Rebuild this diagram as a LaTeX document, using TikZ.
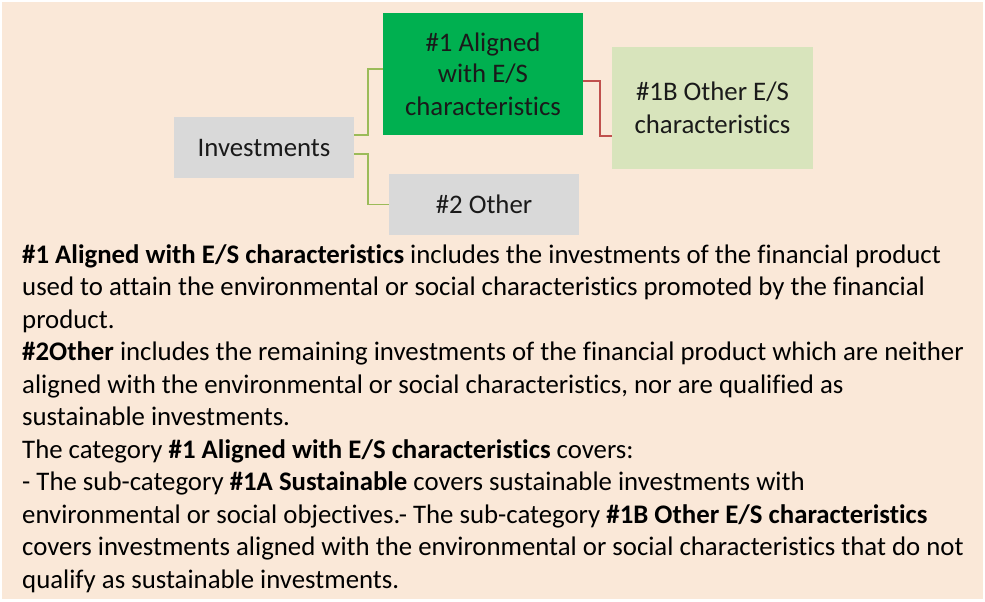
\documentclass[tikz,border=0pt]{standalone}
\usepackage{fontspec}
\setmainfont{Carlito}[Ligatures={NoCommon}]
\definecolor{bgpanel}{HTML}{FAE8D8}
\definecolor{boxgray}{HTML}{D9D9D9}
\definecolor{boxgreen}{HTML}{00B050}
\definecolor{boxlight}{HTML}{D8E4BC}
\definecolor{lnkgreen}{HTML}{9BBB59}
\definecolor{lnkred}{HTML}{C0504D}
\definecolor{txt}{HTML}{1A1A1A}
\tikzset{
  catbox/.style={inner sep=0pt, align=center, text=txt,
    font=\fontsize{26.8}{32.5}\selectfont},
  glink/.style={draw=lnkgreen, line width=1.5pt},
  rlink/.style={draw=lnkred, line width=1.5pt},
  bodyline/.style={anchor=base west, inner sep=0pt, text=black,
    font=\fontsize{26.8}{32.5}\selectfont}
}
\begin{document}
\begin{tikzpicture}[x=1pt,y=-1pt]
\useasboundingbox (0,0) rectangle (985,602);
\fill[bgpanel] (2,2) rectangle (983,599);

\node[catbox, fill=boxgray, minimum width=180pt, minimum height=61pt] (inv) at (264,147.5) {Investments};
\node[catbox, fill=boxgreen, minimum width=200pt, minimum height=122pt] (a1) at (483,74) {\raisebox{-2pt}{\#1 Aligned}\\[1pt]with E/S\\characteristics};
\node[catbox, fill=boxlight, minimum width=201pt, minimum height=122pt] (b1) at (712.5,108) {\#1B Other E/S\\characteristics};
\node[catbox, fill=boxgray, minimum width=190pt, minimum height=61pt] (o2) at (484,204.5) {\#2 Other};

\draw[glink] ([yshift=12.5pt]inv.east) -- ++(14,0) |- ([yshift=5pt]a1.west);
\draw[glink] ([yshift=-6.5pt]inv.east) -- ++(14,0) |- (o2.west);
\draw[rlink] ([yshift=-7pt]a1.east) -- ++(17,0) |- ([yshift=-28pt]b1.west);

\node[bodyline] (l1) at (22,263) {\textbf{\#1 Aligned with E/S characteristics} includes the investments of the financial product};
\node[bodyline] (l2) at (22,295.5) {used to attain the environmental or social characteristics promoted by the financial};
\node[bodyline] (l3) at (22,328) {product.};
\node[bodyline] (l4) at (22,360.5) {\textbf{\#2Other} includes the remaining investments of the financial product which are neither};
\node[bodyline] (l5) at (22,393) {aligned with the environmental or social characteristics, nor are qualified as};
\node[bodyline] (l6) at (22,425.5) {sustainable investments.};
\node[bodyline] (l7) at (22,458) {The category \textbf{\#1 Aligned with E/S characteristics} covers:};
\node[bodyline] (l8) at (22,490.5) {- The sub-category \textbf{\#1A Sustainable} covers sustainable investments with};
\node[bodyline] (l9) at (22,523) {environmental or social objectives.- The sub-category \textbf{\#1B Other E/S characteristics}};
\node[bodyline] (l10) at (22,555.5) {covers investments aligned with the environmental or social characteristics that do not};
\node[bodyline] (l11) at (22,588) {qualify as sustainable investments.};
\end{tikzpicture}
\end{document}
